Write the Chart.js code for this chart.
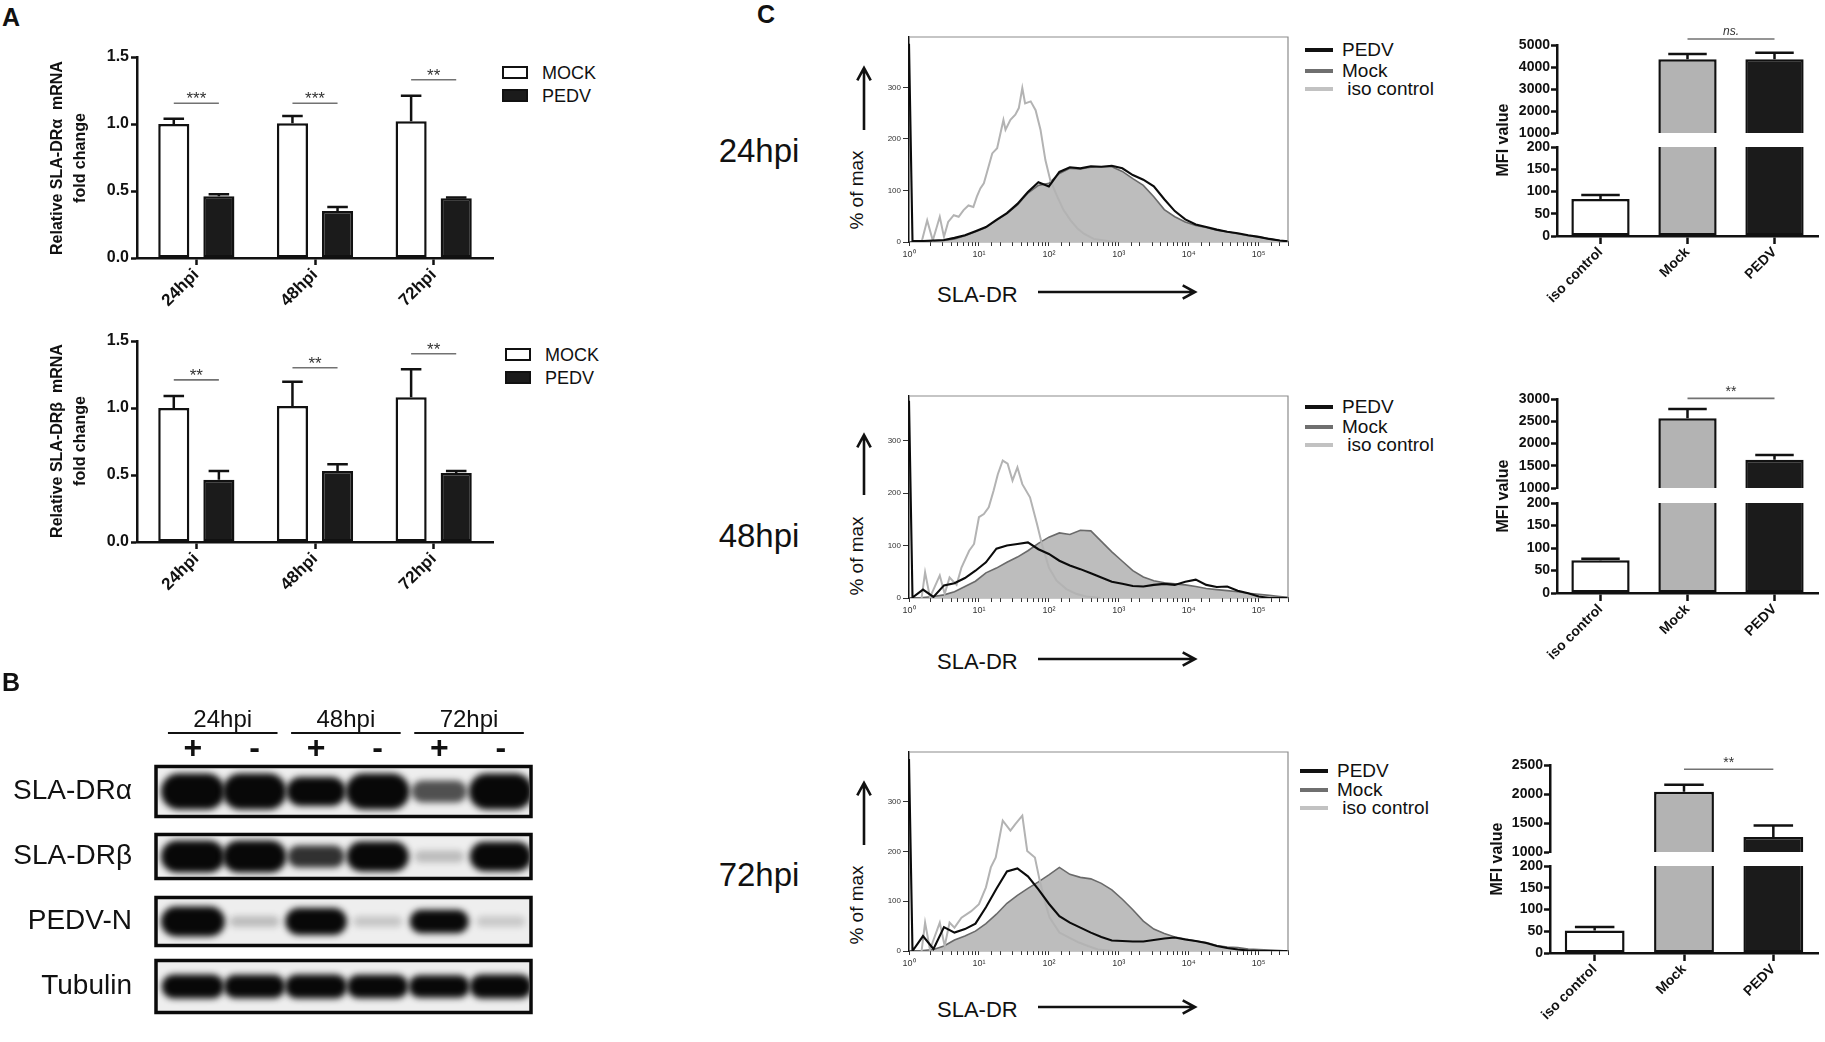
<!DOCTYPE html>
<html lang="en"><head><meta charset="utf-8"><title>SLA-DR expression after PEDV infection</title>
<script src="https://cdn.jsdelivr.net/npm/chart.js@4.4.1/dist/chart.umd.min.js"></script>
<style>
html,body{margin:0;padding:0;background:#fff;}
body{position:relative;width:1825px;height:1042px;overflow:hidden;font-family:"Liberation Sans",Arial,Helvetica,sans-serif;color:#111;}
.t{position:absolute;white-space:pre;line-height:1;z-index:5;}
.cw{position:absolute;}
.cw canvas{display:block;}
#ov{position:absolute;left:0;top:0;pointer-events:none;z-index:6;}
</style></head><body>
<svg id="ov" width="1825" height="1042"></svg>
<script>
// ================= DATA =================
// Panel A : relative mRNA fold change (mean and SEM)
const timeLabels = ['24hpi', '48hpi', '72hpi'];
const seriesNames = ['MOCK', 'PEDV'];
const aTicks = [0, 0.5, 1.0, 1.5];
const alphaMock = [1.00, 1.005, 1.02];
const alphaMockErr = [0.04, 0.055, 0.19];
const alphaPedv = [0.46, 0.35, 0.445];
const alphaPedvErr = [0.015, 0.03, 0.006];
const alphaSigY = [1.155, 1.155, 1.33];
const alphaSigText = ['***', '***', '**'];
const betaMock = [1.00, 1.015, 1.08];
const betaMockErr = [0.09, 0.18, 0.21];
const betaPedv = [0.465, 0.53, 0.515];
const betaPedvErr = [0.065, 0.05, 0.015];
const betaSigY = [1.21, 1.30, 1.405];
const betaSigText = ['**', '**', '**'];

// Panel B : western blot band intensities (0 = none, 1 = saturated)
const blotRows = ['SLA-DRα', 'SLA-DRβ', 'PEDV-N', 'Tubulin'];
const blotLanes = [1, 2, 3, 4, 5, 6];
const blotSigns = ['+', '-', '+', '-', '+', '-'];
const blotGroups = ['24hpi', '48hpi', '72hpi'];
const bandAlpha = [1.0, 1.0, 0.72, 1.0, 0.45, 1.0];
const bandBeta = [1.0, 1.0, 0.55, 0.9, 0.1, 0.88];
const bandPedvN = [1.0, 0.1, 0.85, 0.07, 0.68, 0.06];
const bandTubulin = [0.9, 0.85, 0.9, 0.85, 0.82, 0.9];

// Panel C : flow histograms (x = log10 of SLA-DR intensity, y = % of max)
const histDecades = [0, 1, 2, 3, 4, 5];
const histYTicks = [0, 100, 200, 300];
const binExp = [0, 0.05, 0.2, 0.35, 0.5, 0.65, 0.8, 0.95, 1.1, 1.25, 1.4, 1.55, 1.7, 1.85, 2.0, 2.15, 2.3, 2.45, 2.6, 2.75, 2.9, 3.05, 3.2, 3.35, 3.5, 3.65, 3.8, 3.95, 4.1, 4.25, 4.4, 4.55, 4.7, 4.85, 5.0, 5.15, 5.3, 5.43];
const mock24 = [0, 0, 1, 2, 3, 6, 12, 20, 28, 42, 55, 72, 95, 110, 114, 133, 143, 142, 145, 146, 146, 137, 123, 110, 88, 63, 49, 39, 32, 28, 23, 20, 16, 12, 10, 6, 3, 1];
const pedv24 = [385, 2, 2, 3, 4, 8, 13, 21, 29, 43, 56, 74, 97, 116, 108, 136, 145, 143, 147, 146, 148, 143, 130, 121, 108, 83, 60, 44, 34, 29, 24, 20, 17, 13, 10, 6, 3, 1];
const isoExp24 = [0.18, 0.26, 0.34, 0.44, 0.5, 0.56, 0.64, 0.71, 0.78, 0.85, 0.92, 0.97, 1.02, 1.07, 1.11, 1.19, 1.26, 1.35, 1.38, 1.45, 1.52, 1.57, 1.62, 1.66, 1.74, 1.81, 1.88, 1.95, 2.02, 2.12, 2.21, 2.31, 2.41, 2.5, 2.64, 2.84, 2.98];
const iso24 = [0, 42, 3, 49, 10, 39, 52, 49, 62, 71, 68, 88, 104, 114, 133, 172, 182, 237, 218, 237, 247, 260, 299, 269, 273, 256, 218, 159, 120, 88, 62, 42, 26, 16, 6, 2, 0];
const mock48 = [0, 0, 1, 3, 6, 12, 22, 32, 48, 57, 68, 78, 90, 104, 116, 124, 121, 129, 128, 108, 88, 70, 52, 40, 33, 29, 27, 25, 22, 18, 16, 14, 12, 9, 7, 5, 3, 1];
const pedv48 = [376, 1, 16, 2, 24, 28, 38, 52, 68, 94, 100, 103, 106, 93, 84, 71, 62, 55, 47, 39, 31, 27, 23, 22, 25, 27, 25, 31, 35, 25, 21, 22, 14, 9, 3, 0, 0, 0];
const isoExp48 = [0.18, 0.23, 0.30, 0.44, 0.51, 0.58, 0.68, 0.75, 0.86, 0.93, 1.0, 1.07, 1.14, 1.21, 1.27, 1.34, 1.41, 1.48, 1.55, 1.62, 1.73, 1.83, 1.90, 2.0, 2.11, 2.25, 2.39, 2.53, 2.74];
const iso48 = [0, 49, 1, 43, 8, 39, 25, 58, 90, 103, 154, 160, 173, 205, 236, 262, 256, 224, 249, 217, 192, 141, 103, 58, 33, 17, 8, 3, 0];
const mock72 = [0, 0, 1, 3, 10, 22, 30, 40, 55, 74, 96, 112, 126, 139, 153, 168, 154, 148, 145, 136, 123, 104, 83, 60, 44, 35, 28, 24, 20, 17, 11, 8, 7, 4, 3, 2, 1, 0];
const pedv72 = [386, 0, 30, 4, 48, 37, 44, 55, 88, 125, 160, 166, 150, 124, 95, 70, 57, 47, 37, 28, 21, 20, 19, 19, 22, 25, 27, 23, 20, 16, 10, 6, 3, 1, 0, 0, 0, 0];
const isoExp72 = [0.18, 0.23, 0.30, 0.44, 0.51, 0.58, 0.65, 0.75, 0.89, 1.0, 1.10, 1.17, 1.24, 1.34, 1.45, 1.52, 1.62, 1.69, 1.80, 1.87, 1.94, 2.01, 2.15, 2.29, 2.43, 2.56, 2.70, 2.91];
const iso72 = [0, 57, 3, 57, 10, 57, 47, 67, 80, 94, 128, 168, 188, 262, 242, 255, 272, 201, 188, 141, 101, 67, 37, 27, 17, 10, 3, 0];
const histLegend = ['PEDV', 'Mock', ' iso control'];
const hpiLabels = ['24hpi', '48hpi', '72hpi'];

// Panel C : MFI bar charts (mean and SEM)
const mfiGroups = ['iso control', 'Mock', 'PEDV'];
const mfi24 = [83, 4350, 4350];
const mfi24Err = [9, 240, 300];
const mfi48 = [73, 2570, 1635];
const mfi48Err = [3, 205, 105];
const mfi72 = [52, 2040, 1258];
const mfi72Err = [8, 120, 200];
const mfiTicksHi24 = [1000, 2000, 3000, 4000, 5000];
const mfiTicksHi48 = [1000, 1500, 2000, 2500, 3000];
const mfiTicksHi72 = [1000, 1500, 2000, 2500];
const mfiTicksLo = [0, 50, 100, 150, 200];
const mfiSigY = [5270, 3015, 2426];
const mfiSigText = ['ns.', '**', '**'];

// ================= HELPERS =================
const FONT = '"Liberation Sans", Arial, Helvetica, sans-serif';
Chart.defaults.font.family = FONT;
Chart.defaults.color = '#111';

function addText(str, x, y, o = {}) {
  const d = document.createElement('div');
  d.className = 't';
  d.textContent = str;
  d.style.font = o.font || ('18px ' + FONT);
  if (o.lh) d.style.lineHeight = o.lh;
  if (o.align) d.style.textAlign = o.align;
  if (o.color) d.style.color = o.color;
  d.style.left = x + 'px';
  d.style.top = y + 'px';
  const ax = o.anchor === 'c' ? '-50%' : o.anchor === 'r' ? '-100%' : '0';
  d.style.transform = `translate(${ax},-50%)` + (o.rot ? ` rotate(${o.rot}deg)` : '');
  document.body.appendChild(d);
  return d;
}
function addBox(x, y, w, h, css) {
  const d = document.createElement('div');
  d.style.cssText = `position:absolute;left:${x}px;top:${y}px;width:${w}px;height:${h}px;box-sizing:border-box;z-index:5;` + css;
  document.body.appendChild(d);
}
function arrow(x1, y1, x2, y2) {
  const ns = 'http://www.w3.org/2000/svg';
  const a = Math.atan2(y2 - y1, x2 - x1), L = 14, sp = 0.5;
  const d = `M${x1},${y1} L${x2},${y2} M${x2 - L * Math.cos(a - sp)},${y2 - L * Math.sin(a - sp)} L${x2},${y2} L${x2 - L * Math.cos(a + sp)},${y2 - L * Math.sin(a + sp)}`;
  const p = document.createElementNS(ns, 'path');
  p.setAttribute('d', d);
  p.setAttribute('stroke', '#111');
  p.setAttribute('stroke-width', '2.6');
  p.setAttribute('fill', 'none');
  document.getElementById('ov').appendChild(p);
}
const fixW = w => s => { s.width = w; s.paddingTop = 0; s.paddingBottom = 0; };
const fixH = h => s => { s.height = h; s.paddingLeft = 0; s.paddingRight = 0; };

function makeChart(area, pad, config) {
  const L = area.l - pad.l, T = area.t - pad.t;
  const W = area.r - area.l + pad.l + pad.r, H = area.b - area.t + pad.t + pad.b;
  const box = document.createElement('div');
  box.className = 'cw';
  box.style.left = L + 'px'; box.style.top = T + 'px';
  box.style.width = W + 'px'; box.style.height = H + 'px';
  const cv = document.createElement('canvas');
  cv.width = W; cv.height = H;
  cv.style.width = W + 'px'; cv.style.height = H + 'px';
  box.appendChild(cv);
  document.body.appendChild(box);
  const o = config.options;
  o.responsive = false;
  o.animation = false;
  o.devicePixelRatio = 1;
  o.layout = { padding: { left: pad.l - (pad.yW || 0), right: pad.r, top: pad.t - (pad.xTopH || 0), bottom: pad.b - (pad.xH || 0) } };
  o.plugins = Object.assign({ legend: { display: false }, tooltip: { enabled: false } }, o.plugins || {});
  return new Chart(cv, config);
}

const errorBarPlugin = {
  id: 'errorBars',
  afterDatasetsDraw(chart) {
    const ctx = chart.ctx, a = chart.chartArea, ys = chart.scales.y;
    ctx.save();
    ctx.beginPath();
    ctx.rect(a.left - 10, a.top - 1, a.right - a.left + 20, a.bottom - a.top + 1);
    ctx.clip();
    ctx.strokeStyle = '#111';
    ctx.lineWidth = 2.5;
    chart.data.datasets.forEach((ds, di) => {
      if (!ds.errors) return;
      chart.getDatasetMeta(di).data.forEach((bar, i) => {
        const v = ds.data[i], e = ds.errors[i];
        const y0 = ys.getPixelForValue(v), y1 = ys.getPixelForValue(v + e);
        const half = bar.width * 0.33;
        ctx.beginPath();
        ctx.moveTo(bar.x, y0); ctx.lineTo(bar.x, y1);
        ctx.moveTo(bar.x - half, y1); ctx.lineTo(bar.x + half, y1);
        ctx.stroke();
      });
    });
    ctx.restore();
  }
};
function sigPlugin(items) {
  return {
    id: 'sig',
    afterDatasetsDraw(chart) {
      const ctx = chart.ctx, ys = chart.scales.y;
      items.forEach(it => {
        const p1 = chart.getDatasetMeta(it.a[0]).data[it.a[1]];
        const p2 = chart.getDatasetMeta(it.b[0]).data[it.b[1]];
        const y = ys.getPixelForValue(it.y);
        ctx.save();
        ctx.strokeStyle = '#727272';
        ctx.lineWidth = 1.6;
        ctx.beginPath(); ctx.moveTo(p1.x, y); ctx.lineTo(p2.x, y); ctx.stroke();
        ctx.fillStyle = '#333';
        ctx.font = it.font;
        ctx.textAlign = 'center';
        ctx.textBaseline = 'alphabetic';
        ctx.fillText(it.text, (p1.x + p2.x) / 2, y + it.dy);
        ctx.restore();
      });
    }
  };
}
const framePlugin = {
  id: 'frame',
  afterDatasetsDraw(chart) {
    const a = chart.chartArea, ctx = chart.ctx;
    ctx.save();
    ctx.strokeStyle = '#8c8c8c';
    ctx.lineWidth = 1.2;
    ctx.beginPath();
    ctx.moveTo(a.left, a.top); ctx.lineTo(a.right, a.top); ctx.lineTo(a.right, a.bottom);
    ctx.stroke();
    ctx.restore();
  }
};

// ================= PANEL A =================
function barPanel(area, mock, mockErr, pedv, pedvErr, sigY, sigText) {
  const tf = { family: FONT, size: 16, weight: 'bold' };
  const xf = { family: FONT, size: 17, weight: 'bold' };
  const axisGrid = { display: true, drawOnChartArea: false, drawTicks: true, tickWidth: 2.5, tickColor: '#111' };
  return makeChart(area, { l: 70, yW: 70, r: 6, t: 12, b: 80, xH: 80 }, {
    type: 'bar',
    data: {
      labels: timeLabels,
      datasets: [
        { label: seriesNames[0], data: mock, errors: mockErr, backgroundColor: '#ffffff', borderColor: '#111', borderWidth: 2.5, borderSkipped: false, barPercentage: 0.69, categoryPercentage: 0.76 },
        { label: seriesNames[1], data: pedv, errors: pedvErr, backgroundColor: '#1b1b1b', borderColor: '#111', borderWidth: 2.5, borderSkipped: false, barPercentage: 0.69, categoryPercentage: 0.76 }
      ]
    },
    options: {
      scales: {
        x: { grid: Object.assign({ offset: false, tickLength: 7 }, axisGrid), border: { display: true, color: '#111', width: 2.5 },
             ticks: { font: xf, color: '#111', minRotation: 45, maxRotation: 45, padding: 0 }, afterFit: fixH(80) },
        y: { min: 0, max: 1.5, afterBuildTicks: s => { s.ticks = aTicks.map(v => ({ value: v })); },
             grid: Object.assign({ tickLength: 6 }, axisGrid), border: { display: true, color: '#111', width: 2.5 },
             ticks: { font: tf, color: '#111', padding: 2, callback: v => Number(v).toFixed(1) }, afterFit: fixW(70) }
      }
    },
    plugins: [errorBarPlugin, sigPlugin(sigY.map((y, i) => ({ a: [0, i], b: [1, i], y: y, text: sigText[i], font: '17px ' + FONT, dy: 1 })))]
  });
}
barPanel({ l: 137, t: 57, r: 493, b: 258 }, alphaMock, alphaMockErr, alphaPedv, alphaPedvErr, alphaSigY, alphaSigText);
barPanel({ l: 137, t: 341, r: 493, b: 542 }, betaMock, betaMockErr, betaPedv, betaPedvErr, betaSigY, betaSigText);

addText('A', 2, 17, { font: 'bold 25px ' + FONT });
addText('Relative SLA-DRα  mRNA\nfold change', 68, 158, { font: 'bold 16px ' + FONT, lh: '23px', align: 'center', anchor: 'c', rot: -90 });
addText('Relative SLA-DRβ  mRNA\nfold change', 68, 441, { font: 'bold 16px ' + FONT, lh: '23px', align: 'center', anchor: 'c', rot: -90 });
[[66, 89], [348, 371]].forEach((ys, k) => {
  const bx = k === 0 ? 502 : 505;
  addBox(bx, ys[0], 26, 13, 'border:2.5px solid #111;background:#fff;');
  addBox(bx, ys[1], 26, 13, 'border:2.5px solid #111;background:#1b1b1b;');
  addText(seriesNames[0], bx + 40, ys[0] + 6.5, { font: '18px ' + FONT });
  addText(seriesNames[1], bx + 40, ys[1] + 6.5, { font: '18px ' + FONT });
});

// ================= PANEL B =================
const blotPlugin = {
  id: 'blot',
  beforeDatasetsDraw(chart) {
    const ctx = chart.ctx, a = chart.chartArea;
    const boxH = [50, 44, 48, 52], bandH = [36, 32, 30, 26], bandW = 64;
    chart.data.datasets.forEach((ds, ri) => {
      const meta = chart.getDatasetMeta(ri);
      const yc = meta.data[0].y, half = boxH[ri] / 2;
      ctx.save();
      ctx.fillStyle = '#eeeeee';
      ctx.fillRect(a.left, yc - half, a.right - a.left, boxH[ri]);
      ctx.beginPath();
      ctx.rect(a.left + 2, yc - half + 2, a.right - a.left - 4, boxH[ri] - 4);
      ctx.clip();
      meta.data.forEach((pt, li) => {
        const v = ds.intensity[li];
        const w = bandW * (0.75 + 0.25 * v), h = bandH[ri] * (0.3 + 0.7 * v);
        ctx.filter = 'blur(3px)';
        ctx.fillStyle = `rgba(8,8,8,${Math.min(1, 0.08 + 1.35 * v)})`;
        ctx.beginPath();
        if (ctx.roundRect) ctx.roundRect(pt.x - w / 2, yc - h / 2, w, h, h / 2);
        else ctx.ellipse(pt.x, yc, w / 2, h / 2, 0, 0, Math.PI * 2);
        ctx.fill();
      });
      ctx.restore();
      ctx.save();
      ctx.lineWidth = 3.5;
      ctx.strokeStyle = '#0a0a0a';
      ctx.strokeRect(a.left, yc - half, a.right - a.left, boxH[ri]);
      ctx.restore();
    });
  },
  afterDraw(chart) {
    const ctx = chart.ctx, xs = chart.scales.x, a = chart.chartArea;
    blotGroups.forEach((g, gi) => {
      const x1 = xs.getPixelForValue(blotLanes[2 * gi]) - 25;
      const x2 = xs.getPixelForValue(blotLanes[2 * gi + 1]) + 23;
      const y = a.top - 26;
      ctx.save();
      ctx.strokeStyle = '#111';
      ctx.lineWidth = 2;
      ctx.beginPath(); ctx.moveTo(x1, y); ctx.lineTo(x2, y); ctx.stroke();
      ctx.fillStyle = '#111';
      ctx.font = '24px ' + FONT;
      ctx.textAlign = 'center';
      ctx.textBaseline = 'alphabetic';
      ctx.fillText(g, (x1 + x2) / 2, y - 6);
      ctx.restore();
    });
  }
};
const bandData = [bandAlpha, bandBeta, bandPedvN, bandTubulin];
makeChart({ l: 156, t: 759, r: 531, b: 1019 }, { l: 156, yW: 156, r: 6, t: 64, xTopH: 20, b: 6 }, {
  type: 'scatter',
  data: {
    datasets: blotRows.map((row, ri) => ({
      label: row,
      data: blotLanes.map(l => ({ x: l, y: row })),
      intensity: bandData[ri],
      pointRadius: 0
    }))
  },
  options: {
    scales: {
      x: { type: 'linear', position: 'top', min: 0.40, max: 6.49,
           afterBuildTicks: s => { s.ticks = blotLanes.map(v => ({ value: v })); },
           grid: { display: false }, border: { display: false },
           ticks: { callback: (v, i) => blotSigns[i], font: { family: FONT, size: 32, weight: 'bold' }, color: '#111', padding: -17, maxRotation: 0 },
           afterFit: fixH(20) },
      y: { type: 'category', labels: blotRows, offset: true, grid: { display: false }, border: { display: false },
           ticks: { font: { family: FONT, size: 28 }, color: '#111', padding: 16 }, afterFit: fixW(156) }
    }
  },
  plugins: [blotPlugin]
});
addText('B', 2, 682, { font: 'bold 25px ' + FONT });

// ================= PANEL C : histograms =================
const sup = ['⁰', '¹', '²', '³', '⁴', '⁵'];
const decadeLabel = v => {
  const e = Math.log10(v), r = Math.round(e);
  return (Math.abs(e - r) < 1e-6 && histDecades.includes(r)) ? '10' + sup[r] : '';
};
const pts = (exps, vals) => exps.map((e, i) => ({ x: Math.pow(10, e), y: vals[i] }));
function histChart(area, yMax, mockV, pedvV, isoE, isoV) {
  return makeChart(area, { l: 40, yW: 40, r: 4, t: 10, b: 26, xH: 26 }, {
    type: 'line',
    data: {
      datasets: [
        { label: 'PEDV', data: pts(binExp, pedvV), borderColor: '#0b0b0b', borderWidth: 2.1, pointRadius: 0, fill: false, tension: 0 },
        { label: 'iso control', data: pts(isoE, isoV), borderColor: '#b3b3b3', borderWidth: 2, pointRadius: 0, fill: false, tension: 0 },
        { label: 'Mock', data: pts(binExp, mockV), borderColor: '#6a6a6a', borderWidth: 1.6, backgroundColor: '#bdbdbd', fill: 'origin', pointRadius: 0, tension: 0 }
      ]
    },
    options: {
      scales: {
        x: { type: 'logarithmic', min: 1, max: 262144,
             grid: { display: true, drawOnChartArea: false, tickLength: 4, tickColor: '#333', tickWidth: 1 },
             border: { display: true, color: '#222', width: 1.2 },
             ticks: { autoSkip: false, maxRotation: 0, minRotation: 0, font: { size: 9 }, color: '#333', padding: 3, callback: v => decadeLabel(v) },
             afterFit: fixH(26) },
        y: { min: 0, max: yMax, afterBuildTicks: s => { s.ticks = histYTicks.map(v => ({ value: v })); },
             grid: { display: true, drawOnChartArea: false, tickLength: 6, tickColor: '#333', tickWidth: 1 },
             border: { display: true, color: '#111', width: 1.5 },
             ticks: { font: { size: 8 }, color: '#333', padding: 2, callback: v => String(v) },
             afterFit: fixW(40) }
      }
    },
    plugins: [framePlugin]
  });
}
histChart({ l: 909, t: 37, r: 1288, b: 242 }, 398, mock24, pedv24, isoExp24, iso24);
histChart({ l: 909, t: 396, r: 1288, b: 598 }, 385, mock48, pedv48, isoExp48, iso48);
histChart({ l: 909, t: 752, r: 1288, b: 951 }, 400, mock72, pedv72, isoExp72, iso72);

addText('C', 757, 14, { font: 'bold 25px ' + FONT });
const rowY = [151, 536, 875];
const pctY = [190, 556, 905], arrTip = [68, 435, 783], arrTail = [130, 495, 845];
const slaY = [295, 662, 1010];
const legY = [[50, 71, 89], [407, 427, 445], [771, 790, 808]];
const legX = [1305, 1305, 1300];
const legColors = ['#111111', '#6f6f6f', '#c2c2c2'];
hpiLabels.forEach((lab, r) => {
  addText(lab, 759, rowY[r], { font: '33px ' + FONT, anchor: 'c' });
  addText('% of max', 857, pctY[r], { font: '19px ' + FONT, anchor: 'c', rot: -90 });
  arrow(864, arrTail[r], 864, arrTip[r]);
  addText('SLA-DR', 937, slaY[r], { font: '22px ' + FONT });
  arrow(1038, slaY[r] - 3, 1195, slaY[r] - 3);
  histLegend.forEach((name, k) => {
    addBox(legX[r], legY[r][k] - 2, 28, 4, 'background:' + legColors[k] + ';');
    addText(name, legX[r] + 37, legY[r][k], { font: '19px ' + FONT });
  });
});

// ================= PANEL C : MFI (broken axis) =================
const mfiColors = ['#ffffff', '#b3b3b3', '#1b1b1b'];
function mfiPanel(hi, lo, vals, errs, hiTicks, sigY, sigText, sigFont, sigDy) {
  const tf = { family: FONT, size: 14, weight: 'bold' };
  const yAxis = arr => ({
    min: arr[0], max: arr[arr.length - 1],
    afterBuildTicks: s => { s.ticks = arr.map(v => ({ value: v })); },
    grid: { display: true, drawOnChartArea: false, tickLength: 6, tickWidth: 2.5, tickColor: '#111' },
    border: { display: true, color: '#111', width: 2.5 },
    ticks: { font: tf, color: '#111', padding: 1, callback: v => String(v) },
    afterFit: fixW(60)
  });
  const ds = skip => [{ data: vals, errors: errs, backgroundColor: mfiColors, borderColor: '#111', borderWidth: 2.5, borderSkipped: skip, barPercentage: 0.67, categoryPercentage: 1, clip: 0 }];
  makeChart(hi, { l: 60, yW: 60, r: 6, t: 34, b: 12 }, {
    type: 'bar',
    data: { labels: mfiGroups, datasets: ds('start') },
    options: { scales: { x: { display: false }, y: yAxis(hiTicks) } },
    plugins: [errorBarPlugin, sigPlugin([{ a: [0, 1], b: [0, 2], y: sigY, text: sigText, font: sigFont, dy: sigDy }])]
  });
  makeChart(lo, { l: 60, yW: 60, r: 6, t: 10, b: 100, xH: 100 }, {
    type: 'bar',
    data: { labels: mfiGroups, datasets: ds(false) },
    options: {
      scales: {
        x: { grid: { display: true, drawOnChartArea: false, offset: false, tickLength: 8, tickWidth: 2.5, tickColor: '#111' },
             border: { display: true, color: '#111', width: 2.5 },
             ticks: { font: { family: FONT, size: 14, weight: 'bold' }, color: '#111', minRotation: 45, maxRotation: 45, padding: 0 },
             afterFit: fixH(100) },
        y: yAxis(mfiTicksLo)
      }
    },
    plugins: [errorBarPlugin]
  });
}
mfiPanel({ l: 1557, t: 45, r: 1818, b: 133 }, { l: 1557, t: 147, r: 1818, b: 236 }, mfi24, mfi24Err, mfiTicksHi24, mfiSigY[0], mfiSigText[0], 'italic 12px ' + FONT, -4);
mfiPanel({ l: 1557, t: 399, r: 1818, b: 488 }, { l: 1557, t: 503, r: 1818, b: 593 }, mfi48, mfi48Err, mfiTicksHi48, mfiSigY[1], mfiSigText[1], '14px ' + FONT, -2);
mfiPanel({ l: 1550, t: 765, r: 1818, b: 852 }, { l: 1550, t: 866, r: 1818, b: 953 }, mfi72, mfi72Err, mfiTicksHi72, mfiSigY[2], mfiSigText[2], '14px ' + FONT, -2);
addText('MFI value', 1503, 140, { font: 'bold 16px ' + FONT, anchor: 'c', rot: -90 });
addText('MFI value', 1503, 496, { font: 'bold 16px ' + FONT, anchor: 'c', rot: -90 });
addText('MFI value', 1497, 859, { font: 'bold 16px ' + FONT, anchor: 'c', rot: -90 });
</script>
</body></html>
